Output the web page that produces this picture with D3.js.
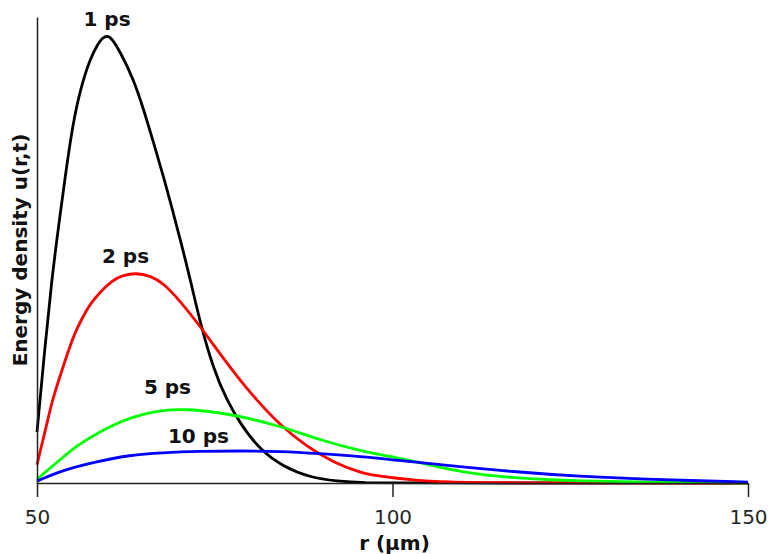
<!DOCTYPE html>
<html>
<head>
<meta charset="utf-8">
<script src="https://cdn.jsdelivr.net/npm/d3@7"></script>
<style>
  html, body { margin: 0; padding: 0; background: #fff; }
  svg { display: block; }
</style>
</head>
<body>
<svg id="chart" width="769" height="554"></svg>
<script>
// ---- data (r in µm, u in arbitrary units) ----
const series1ps = [
  [50,0.109],[51.13,0.294],[52.07,0.436],[53.00,0.547],[53.94,0.655],[55.06,0.773],
  [56.15,0.848],[57.45,0.910],[58.58,0.943],[59.2,0.955],[59.85,0.960],[60.5,0.955],
  [61.67,0.926],[63.54,0.868],[64.95,0.804],[66.36,0.732],[67.76,0.659],[68.95,0.592],
  [70.35,0.511],[71.76,0.424],[72.93,0.345],[74.80,0.245],[76.68,0.178],[78.55,0.128],
  [81.36,0.071],[84.64,0.035],[88.40,0.012],[92.15,0.004],[96.13,0.0004],[101.05,0],[150,0]
];
const series2ps = [
  [50,0.039],[50.66,0.082],[51.27,0.119],[51.83,0.157],[52.53,0.196],[53.70,0.251],
  [54.64,0.294],[55.34,0.322],[56.05,0.345],[57.45,0.384],[58.86,0.410],[60.73,0.436],
  [61.91,0.445],[63.92,0.451],[65.89,0.445],[67.76,0.429],[70.10,0.391],[72.93,0.337],
  [76.68,0.257],[80.42,0.185],[84.18,0.124],[87.93,0.078],[91.67,0.044],[95.43,0.022],
  [98.24,0.014],[102.88,0.006],[107.62,0.002],[115.12,0],[150,0]
];
const series5ps = [
  [50,0.008],[53.70,0.056],[55.34,0.077],[58.40,0.107],[63.08,0.142],[67.76,0.157],
  [71.05,0.159],[76.68,0.150],[84.18,0.123],[89.80,0.092],[95.43,0.069],[101.05,0.053],
  [102.93,0.047],[107.62,0.030],[112.31,0.017],[119.34,0.009],[126.37,0.004],
  [135.65,0.002],[150,0]
];
const series10ps = [
  [50,0.004],[53.70,0.028],[58.40,0.046],[63.08,0.060],[67.51,0.065],[72.93,0.068],
  [78.55,0.069],[84.18,0.068],[89.80,0.063],[95.43,0.057],[101.05,0.048],[107.62,0.038],
  [116.99,0.024],[126.37,0.014],[135.75,0.008],[145.12,0.004],[150,0.002]
];
const seriesNames = ["1 ps", "2 ps", "5 ps", "10 ps"];
const seriesData = [series1ps, series2ps, series5ps, series10ps];
// label anchor (r, u) for each curve annotation
const labelR = [59.85, 62.45, 68.35, 72.7];
const labelU = [0.981, 0.473, 0.191, 0.085];
const xTicks = [50, 100, 150];
const xTitle = "r (µm)";
const yTitle = "Energy density u(r,t)";

// ---- styles ----
const colors = ["#000000", "#ff0000", "#00ff00", "#0000ff"];
const font = "'DejaVu Sans', sans-serif";

const svg = d3.select("#chart");
const x = d3.scaleLinear().domain([50, 150]).range([37, 748]);
const y = d3.scaleLinear().domain([0, 1]).range([483, 17]);

// curves
const line = d3.line()
  .x(d => x(d[0]))
  .y(d => y(d[1]))
  .curve(d3.curveBasis);

svg.append("g").selectAll("path")
  .data(seriesData)
  .join("path")
  .attr("d", line)
  .attr("fill", "none")
  .attr("stroke", (d, i) => colors[i])
  .attr("stroke-width", 2.8)
  .attr("stroke-linejoin", "round");

// x axis
const xAxis = svg.append("g")
  .attr("transform", `translate(0,${y(0)})`)
  .call(d3.axisBottom(x).tickValues(xTicks).tickSize(14).tickSizeOuter(0).tickPadding(13));
xAxis.select(".domain").attr("stroke", "#222").attr("stroke-width", 1.5);
xAxis.selectAll(".tick line").attr("stroke", "#222").attr("stroke-width", 1.5);
xAxis.selectAll(".tick text")
  .attr("font-family", font).attr("font-size", 20).attr("fill", "#262626");

// y axis (line only)
const yAxis = svg.append("g")
  .attr("transform", `translate(${x(50)},0)`)
  .call(d3.axisLeft(y).tickValues([]).tickSizeOuter(0));
yAxis.select(".domain").attr("stroke", "#222").attr("stroke-width", 1.5);

// axis titles
svg.append("text")
  .attr("x", (x(50) + x(150)) / 2 + 2)
  .attr("y", 550)
  .attr("text-anchor", "middle")
  .attr("font-family", font).attr("font-size", 20).attr("font-weight", "bold")
  .attr("fill", "#111")
  .text(xTitle);

svg.append("text")
  .attr("transform", `translate(27,${(y(0) + y(1)) / 2}) rotate(-90)`)
  .attr("text-anchor", "middle")
  .attr("font-family", font).attr("font-size", 20).attr("font-weight", "bold")
  .attr("fill", "#111")
  .text(yTitle);

// curve labels
svg.append("g").selectAll("text")
  .data(seriesNames)
  .join("text")
  .attr("x", (d, i) => x(labelR[i]))
  .attr("y", (d, i) => y(labelU[i]))
  .attr("text-anchor", "middle")
  .attr("font-family", font).attr("font-size", 20).attr("font-weight", "bold")
  .attr("fill", "#111")
  .text(d => d);
</script>
</body>
</html>
